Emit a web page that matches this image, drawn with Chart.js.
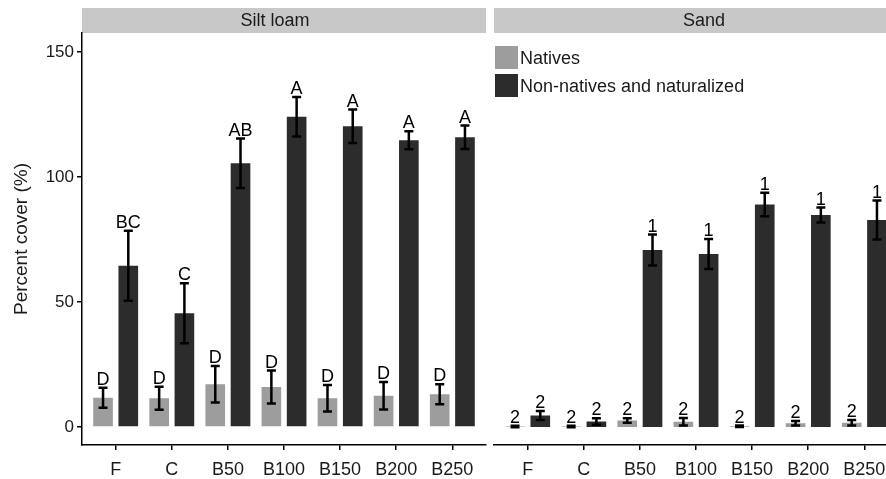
<!DOCTYPE html>
<html>
<head>
<meta charset="utf-8">
<script src="https://cdn.jsdelivr.net/npm/chart.js@4"></script>
<style>
  html, body { margin: 0; padding: 0; background: #fff; overflow: hidden; }
  #wrap { position: relative; width: 886px; height: 479px; overflow: hidden; }
  #silt { position: absolute; left: 0; top: 0; }
  #sand { position: absolute; left: 490px; top: 0; }
</style>
</head>
<body>
<div id="wrap">
  <canvas id="silt" width="490" height="479"></canvas>
  <canvas id="sand" width="412" height="479"></canvas>
</div>
<script>
// categorias del eje x
const categories = ['F', 'C', 'B50', 'B100', 'B150', 'B200', 'B250'];
const yTicks = [0, 50, 100, 150];

// Silt loam
const siltNatives = [11.7, 11.5, 17.1, 16.0, 11.5, 12.5, 13.1];
const siltNativesSE = [4.0, 4.6, 7.3, 6.6, 5.3, 5.5, 4.0];
const siltNativesLetters = ['D', 'D', 'D', 'D', 'D', 'D', 'D'];
const siltNonNatives = [64.5, 45.5, 105.5, 124.1, 120.3, 114.7, 115.9];
const siltNonNativesSE = [14.0, 12.0, 9.9, 7.9, 6.7, 3.6, 4.7];
const siltNonNativesLetters = ['BC', 'C', 'AB', 'A', 'A', 'A', 'A'];

// Sand
const sandNatives = [0.2, 0.2, 2.6, 2.1, 0.3, 1.5, 1.7];
const sandNativesSE = [0.3, 0.3, 0.9, 1.5, 0.3, 0.9, 1.1];
const sandNativesLetters = ['2', '2', '2', '2', '2', '2', '2'];
const sandNonNatives = [4.6, 2.2, 70.8, 69.2, 89.0, 84.8, 82.8];
const sandNonNativesSE = [1.8, 1.3, 6.2, 6.0, 4.7, 3.0, 7.8];
const sandNonNativesLetters = ['2', '2', '1', '1', '1', '1', '1'];

const FONT = "'Liberation Sans', Arial, sans-serif";
const TXT = '#1a1a1a';

// barras de error + letras
const errorBars = {
  id: 'errorBars',
  afterDatasetsDraw(chart) {
    const ctx = chart.ctx;
    const ys = chart.scales.y;
    ctx.save();
    chart.data.datasets.forEach((ds, di) => {
      const meta = chart.getDatasetMeta(di);
      meta.data.forEach((bar, i) => {
        const v = ds.data[i].y, se = ds.se[i];
        const top = ys.getPixelForValue(v + se);
        const bot = ys.getPixelForValue(v - se);
        ctx.strokeStyle = '#000';
        ctx.lineWidth = 2.5;
        ctx.beginPath();
        ctx.moveTo(bar.x, top); ctx.lineTo(bar.x, bot);
        ctx.moveTo(bar.x - 4.5, top); ctx.lineTo(bar.x + 4.5, top);
        ctx.moveTo(bar.x - 4.5, bot); ctx.lineTo(bar.x + 4.5, bot);
        ctx.stroke();
        ctx.fillStyle = '#000';
        ctx.font = '18px ' + FONT;
        ctx.textAlign = 'center';
        ctx.textBaseline = 'alphabetic';
        ctx.fillText(ds.letters[i], bar.x, top - 3);
      });
    });
    ctx.restore();
  }
};

// franja gris con el nombre del panel
const strip = {
  id: 'strip',
  beforeDraw(chart, args, opts) {
    const a = chart.chartArea, ctx = chart.ctx;
    ctx.save();
    ctx.fillStyle = '#c8c8c8';
    ctx.fillRect(a.left, 8, a.right - a.left, 25);
    ctx.fillStyle = TXT;
    ctx.font = '18px ' + FONT;
    ctx.textAlign = 'center';
    ctx.textBaseline = 'middle';
    ctx.fillText(opts.text, (a.left + a.right) / 2 + opts.shift, 21);
    ctx.restore();
  }
};

// leyenda dentro del panel
const boxLegend = {
  id: 'boxLegend',
  afterDraw(chart, args, opts) {
    if (!opts.show) return;
    const a = chart.chartArea, ctx = chart.ctx;
    ctx.save();
    chart.data.datasets.forEach((ds, i) => {
      const y = 46 + i * 28;
      ctx.fillStyle = ds.backgroundColor;
      ctx.fillRect(a.left + 1, y, 23, 23);
      ctx.fillStyle = TXT;
      ctx.font = '18px ' + FONT;
      ctx.textAlign = 'left';
      ctx.textBaseline = 'middle';
      ctx.fillText(ds.label, a.left + 26, y + 13);
    });
    ctx.restore();
  }
};

function points(arr) {
  return arr.map((v, i) => ({ x: i, y: v }));
}

function makePanel(id, title, shift, nat, natSE, natL, non, nonSE, nonL, showY, showLegend, pad) {
  const ctx = document.getElementById(id).getContext('2d');
  return new Chart(ctx, {
    type: 'bar',
    data: {
      datasets: [
        {
          label: 'Natives',
          data: points(nat), se: natSE, letters: natL,
          backgroundColor: '#9d9d9d', borderWidth: 0,
          categoryPercentage: 0.9, barPercentage: 0.778
        },
        {
          label: 'Non-natives and naturalized',
          data: points(non), se: nonSE, letters: nonL,
          backgroundColor: '#2c2c2c', borderWidth: 0,
          categoryPercentage: 0.9, barPercentage: 0.778
        }
      ]
    },
    options: {
      responsive: false,
      animation: false,
      layout: { padding: pad },
      plugins: {
        legend: { display: false },
        tooltip: { enabled: false },
        strip: { text: title, shift: shift },
        boxLegend: { show: showLegend }
      },
      scales: {
        x: {
          type: 'linear', min: -0.6, max: 6.6, offset: false,
          afterBuildTicks: s => { s.ticks = categories.map((c, i) => ({ value: i })); },
          afterFit: s => { s.height = 34; },
          grid: { drawOnChartArea: false, drawTicks: true, tickLength: 5, color: '#000', lineWidth: 1.5, offset: false },
          border: { display: true, color: '#000', width: 1.5 },
          ticks: {
            callback: v => categories[v],
            font: { family: FONT, size: 18 }, color: TXT,
            padding: 9, maxRotation: 0, autoSkip: false
          }
        },
        y: {
          display: showY,
          min: -7.2, max: 157.6,
          afterBuildTicks: s => { s.ticks = yTicks.map(v => ({ value: v })); },
          afterFit: s => { s.width = showY ? 82 : 0; },
          grid: { drawOnChartArea: false, drawTicks: true, tickLength: 5, color: '#000', lineWidth: 1.5 },
          border: { display: true, color: '#000', width: 1.5 },
          ticks: { font: { family: FONT, size: 17 }, color: TXT, padding: 3 },
          title: {
            display: true, text: 'Percent cover (%)',
            font: { family: FONT, size: 19 }, color: TXT,
            padding: { top: 10, bottom: 0 }
          }
        }
      }
    },
    plugins: [strip, errorBars, boxLegend]
  });
}

makePanel('silt', 'Silt loam', -9,
  siltNatives, siltNativesSE, siltNativesLetters,
  siltNonNatives, siltNonNativesSE, siltNonNativesLetters,
  true, false, { left: 0, right: 4, top: 33, bottom: 0 });

makePanel('sand', 'Sand', 8,
  sandNatives, sandNativesSE, sandNativesLetters,
  sandNonNatives, sandNonNativesSE, sandNonNativesLetters,
  false, true, { left: 4, right: 4, top: 33, bottom: 0 });
</script>
</body>
</html>
